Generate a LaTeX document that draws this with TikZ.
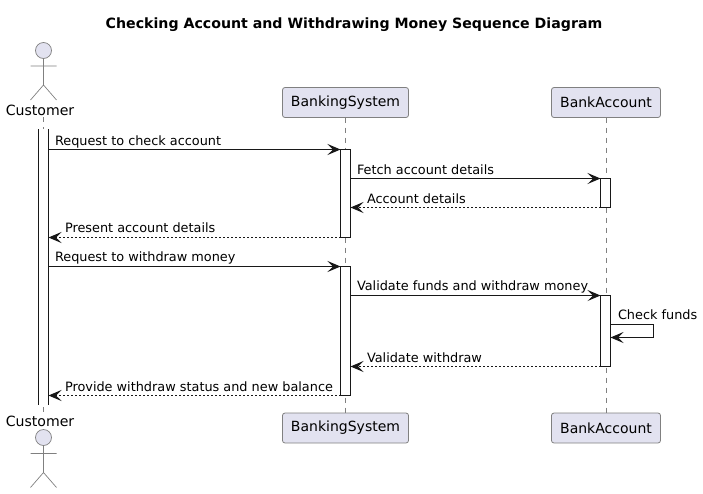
\documentclass[tikz,border=0pt]{standalone}
\usepackage{fontspec}
\setmainfont{DejaVu Sans}
\usetikzlibrary{arrows.meta}
\definecolor{boxfill}{HTML}{E2E2F0}
\definecolor{ink}{HTML}{181818}
\tikzset{
  every node/.style={inner sep=0pt,outer sep=0pt},
  part/.style={draw=ink!55,line width=0.8pt,fill=boxfill,rounded corners=2.5pt,minimum height=30pt,font=\fontsize{14}{16}\selectfont},
  actorline/.style={draw=ink!55,line width=0.7pt},
  life/.style={draw=ink!55,line width=0.6pt,dash pattern=on 5pt off 5pt},
  bar/.style={draw=ink,fill=white,line width=1pt,minimum width=10pt},
  openbar/.style={fill=white,minimum width=10pt},
  barside/.style={draw=ink,line width=1pt},
  msg/.style={draw=ink,line width=1pt,-{Stealth[length=13pt,width=11pt,inset=5.5pt,fill=ink]}},
  ret/.style={msg,dash pattern=on 2pt off 2pt},
  lbl/.style={anchor=base west,font=\fontsize{12.85}{15}\selectfont,text=black},
  actorname/.style={font=\fontsize{14.1}{16}\selectfont,text=black}
}
\begin{document}
\begin{tikzpicture}[x=1pt,y=-1pt]
\useasboundingbox (0,0) rectangle (703,493);
\node[anchor=base,font=\bfseries\fontsize{14.15}{16}\selectfont] (title) at (354,28) {Checking Account and Withdrawing Money Sequence Diagram};
% participants
\node[part,minimum width=126pt] (bsT) at (345.5,102.5) {BankingSystem};
\node[part,minimum width=126pt] (bsB) at (345.5,428) {BankingSystem};
\node[part,minimum width=109pt] (baT) at (606,102.5) {BankAccount};
\node[part,minimum width=109pt] (baB) at (606,428) {BankAccount};
\node[actorname] (cuT) at (40,110) {Customer};
\node[actorname] (cuB) at (40,421) {Customer};
% lifelines
\draw[life] (43.5,117) -- (43.5,413);
\draw[life] (bsT.south) -- (bsB.north);
\draw[life] (baT.south) -- (baB.north);
% actors
\foreach \n/\h/\a/\w/\l in {a/50.5/66/85/100,b/437.5/453.5/472.5/487.5}{
  \draw[actorline,fill=boxfill] (43.5,\h) circle (8);
  \draw[actorline] (43.5,\h+8) -- (43.5,\w) (30.5,\a) -- (56.5,\a) (30.5,\l) -- (43.5,\w) -- (56.5,\l);
}
% activation bars
\node[openbar,anchor=north,minimum height=276pt] (cbar) at (43.5,129) {};
\draw[barside] (cbar.north west) -- (cbar.south west) (cbar.north east) -- (cbar.south east);
\node[bar,anchor=north,minimum height=88pt] (bs1) at (345.5,149.5) {};
\node[bar,anchor=north,minimum height=129pt] (bs2) at (345.5,266.5) {};
\node[bar,anchor=north,minimum height=29pt] (ba1) at (605.5,178.5) {};
\node[bar,anchor=north,minimum height=71pt] (ba2) at (605.5,295.5) {};
% messages
\draw[msg] (cbar.east |- bs1.north) -- (bs1.north west);
\node[lbl] (m1) at (55,145) {Request to check account};
\draw[msg] (bs1.east |- ba1.north) -- (ba1.north west);
\node[lbl] (m2) at (357,174.5) {Fetch account details};
\draw[ret] (ba1.south west) -- (bs1.east |- ba1.south);
\node[lbl] (m3) at (367,203) {Account details};
\draw[ret] (bs1.south west) -- (cbar.east |- bs1.south);
\node[lbl] (m4) at (65,232) {Present account details};
\draw[msg] (cbar.east |- bs2.north) -- (bs2.north west);
\node[lbl] (m5) at (55,261) {Request to withdraw money};
\draw[msg] (bs2.east |- ba2.north) -- (ba2.north west);
\node[lbl] (m6) at (357,290) {Validate funds and withdraw money};
\coordinate (s1) at (ba2.east |- 0,324.5);
\coordinate (s2) at (653.5,324.5);
\coordinate (s3) at (653.5,337.5);
\coordinate (s4) at (ba2.east |- 0,337.5);
\draw[msg] (s1) -- (s2) -- (s3) -- (s4);
\node[lbl] (m7) at (618,319) {Check funds};
\draw[ret] (ba2.south west) -- (bs2.east |- ba2.south);
\node[lbl] (m8) at (367,362) {Validate withdraw};
\draw[ret] (bs2.south west) -- (cbar.east |- bs2.south);
\node[lbl] (m9) at (65,391) {Provide withdraw status and new balance};
\end{tikzpicture}
\end{document}
